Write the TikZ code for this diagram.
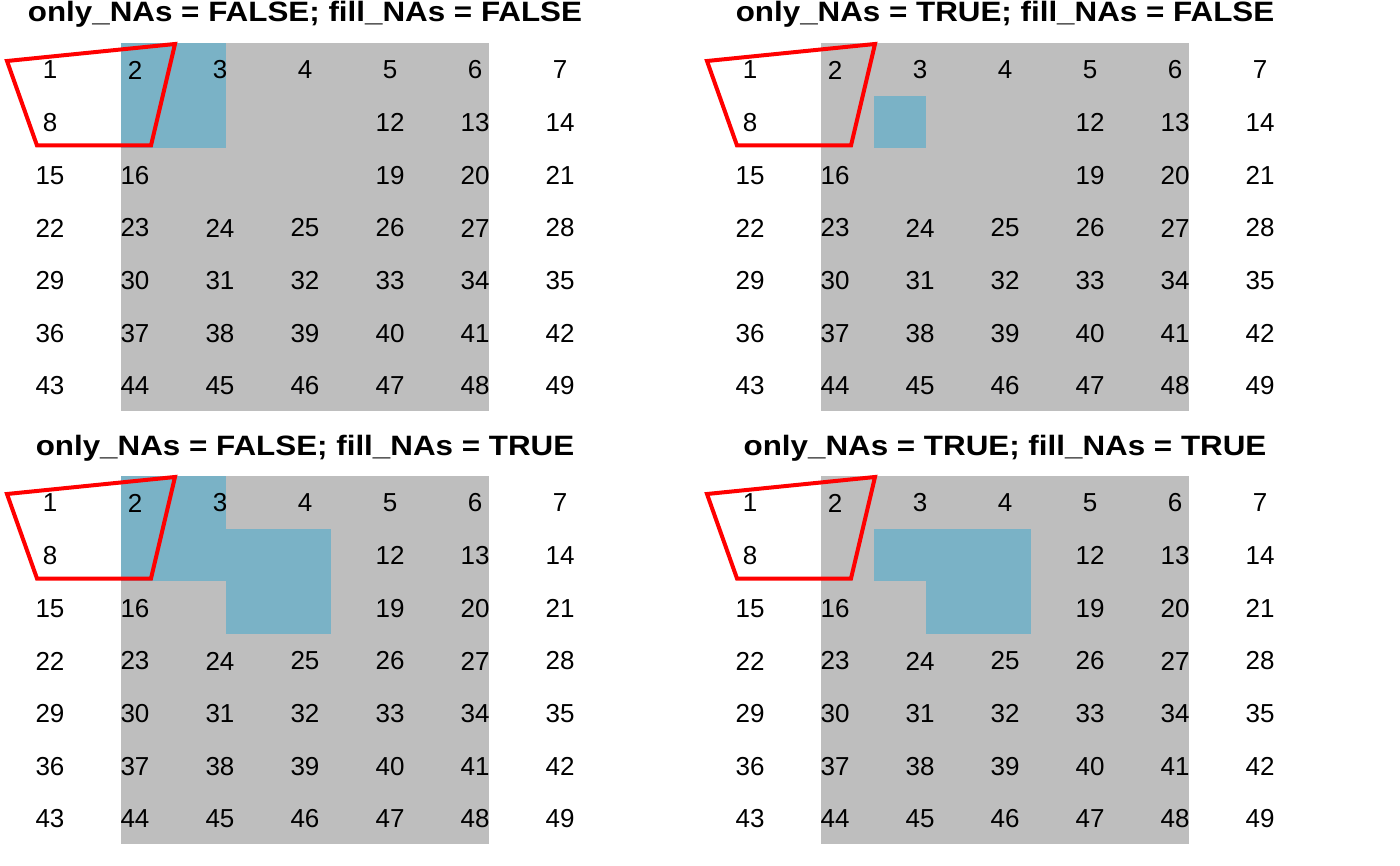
\documentclass[tikz,border=0pt]{standalone}
\usepackage{fontspec}
\setmainfont{Liberation Sans}
\newfontfamily\titlefont[FakeStretch=1.12]{Liberation Sans}
\usetikzlibrary{positioning}
\definecolor{nagray}{HTML}{BEBEBE}
\definecolor{nablue}{HTML}{7AB2C6}

\begin{document}
\begin{tikzpicture}[x=1pt, y=-1pt, inner sep=0pt,
      num/.style={font=\fontsize{26}{26}\selectfont},
      title/.style={anchor=base, font=\titlefont\bfseries\fontsize{28}{28}\selectfont},
      zone/.style={draw=red, line width=4pt, line join=miter}]
  \useasboundingbox (0,0) rectangle (1400,866);
  % gray raster under each panel
  \foreach \ox/\oy in {0/0, 700/0, 0/433, 700/433}
    \fill[nagray] (121+\ox,43+\oy) rectangle (489+\ox,411+\oy);
  % blue cells
  \fill[nablue] (121,43) rectangle (226.14,148.14);
  \fill[nablue] (873.57,95.57) rectangle (926.14,148.14);
  \fill[nablue] (121,476) rectangle (226.14,581.14);
  \fill[nablue] (226.14,528.57) rectangle (331.29,633.71);
  \fill[nablue] (873.57,528.57) rectangle (1031.29,581.14);
  \fill[nablue] (926.14,581.14) rectangle (1031.29,633.71);
  % titles
  \node[title] (ttl-a) at (305,22) {only\_NAs = FALSE; fill\_NAs = FALSE};
  \node[title] (ttl-b) at (1005,22) {only\_NAs = TRUE; fill\_NAs = FALSE};
  \node[title] (ttl-c) at (305,455) {only\_NAs = FALSE; fill\_NAs = TRUE};
  \node[title] (ttl-d) at (1005,455) {only\_NAs = TRUE; fill\_NAs = TRUE};
  % cell numbers and polygon
  \foreach \p/\ox/\oy in {a/0/0, b/700/0, c/0/433, d/700/433} {
    \begin{scope}[shift={(\ox,\oy)}]
      \foreach \n in {1,...,8,12,13,...,16,19,20,...,49} {
        \pgfmathtruncatemacro\c{mod(\n-1,7)}
        \pgfmathtruncatemacro\r{(\n-1)/7}
        \node[num] (\p-\n) at ({50+85*\c},{70+52.667*\r}) {\n};
      }
      \draw[zone] (7,61) -- (175,44) -- (151,145.5) -- (37,145.5) -- cycle;
    \end{scope}
  }
\end{tikzpicture}
\end{document}
